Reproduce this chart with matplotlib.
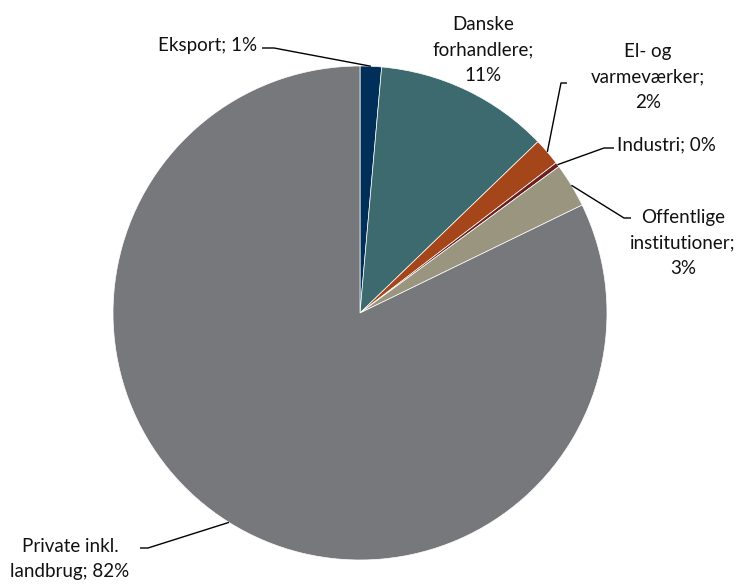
import numpy as np
import matplotlib.pyplot as plt

# data (share of sales, %)
categories = ["Eksport", "Danske forhandlere", "El- og varmeværker", "Industri",
              "Offentlige institutioner", "Private inkl. landbrug"]
values = [1.4, 11.4, 1.8, 0.3, 2.9, 82.2]
labels = ["Eksport; 1%", "Danske\nforhandlere;\n11%", "El- og\nvarmeværker;\n2%",
          "Industri; 0%", "Offentlige\ninstitutioner;\n3%", "Private inkl.\nlandbrug; 82%"]
colors = ["#00305A", "#3C6A6E", "#A5461A", "#6B1F1F", "#9A957F", "#77787B"]

W, H = 749, 584
plt.rcParams['font.family'] = ['Lato', 'DejaVu Sans']

fig = plt.figure(figsize=(W / 100, H / 100), dpi=100)
ax = fig.add_axes([0, 0, 1, 1])

cx, cy, r = 360, H - 313, 247
wedges, _ = ax.pie(values, colors=colors, startangle=90, counterclock=False,
                   center=(cx, cy), radius=r, frame=True,
                   wedgeprops=dict(edgecolor='white', linewidth=0.5))
ax.set_xlim(0, W)
ax.set_ylim(0, H)
ax.axis('off')

# label text position, alignment, end + elbow point of leader (pixel coords from top)
label_pos = [
    (257, 45, 'right', (262, 48), (274, 48)),
    (483, 50, 'center', None, None),
    (648, 77, 'center', (567, 83), (561, 83)),
    (617, 145, 'left', (614, 148), (604, 148)),
    (683, 243, 'center', (631, 218), (624, 218)),
    (70, 559, 'center', (140, 548), (148, 548)),
]

for w, lab, (tx, ty, ha, p_end, p_elbow) in zip(wedges, labels, label_pos):
    ax.text(tx, H - ty, lab, ha=ha, va='center', fontsize=13.5,
            color='#111111', linespacing=1.62)
    if p_end is None:
        continue
    ang = np.deg2rad((w.theta1 + w.theta2) / 2)
    ax_x = cx + r * np.cos(ang)
    ax_y = cy + r * np.sin(ang)
    ax.plot([p_end[0], p_elbow[0], ax_x], [H - p_end[1], H - p_elbow[1], ax_y],
            color='black', linewidth=1.0, solid_capstyle='butt')

fig.savefig("out.png", dpi=100, facecolor='white')
